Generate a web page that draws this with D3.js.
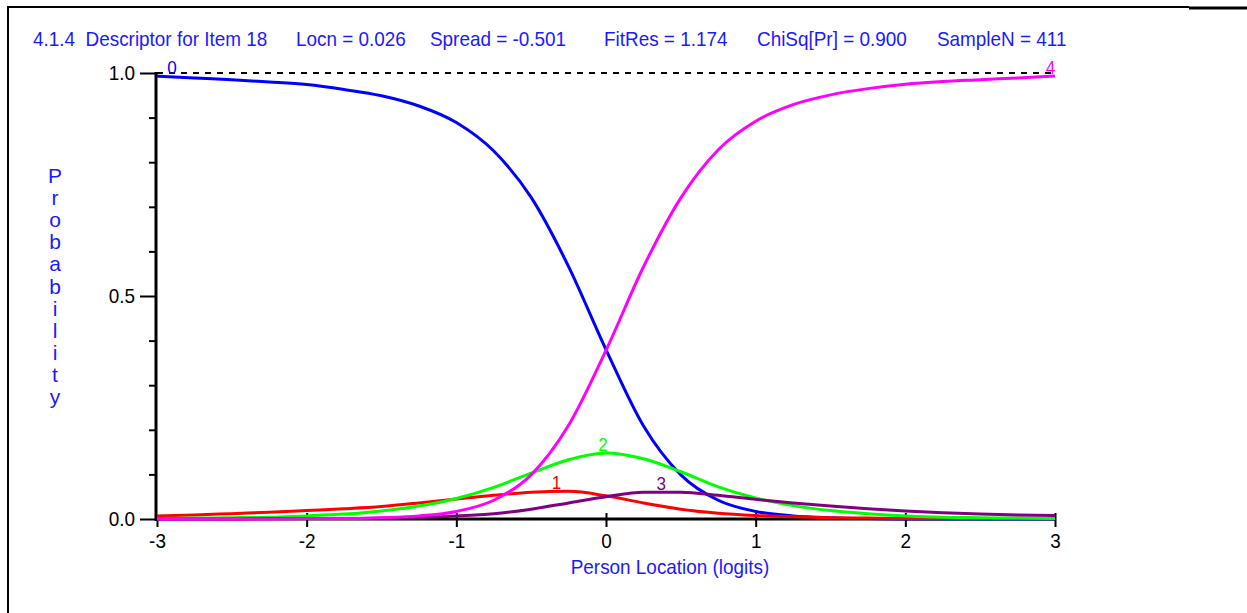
<!DOCTYPE html>
<html>
<head>
<meta charset="utf-8">
<script src="https://cdn.jsdelivr.net/npm/d3@7"></script>
<style>
  html, body { margin: 0; padding: 0; background: #fff; }
  svg { display: block; }
  text { font-family: "Liberation Sans", Arial, sans-serif; white-space: pre; }
</style>
</head>
<body>
<svg id="chart" width="1247" height="613"></svg>
<script>
// Category probability curves for item 18 (person location in logits)
const theta = [-3, -2.75, -2.5, -2.25, -2, -1.75, -1.5, -1.25, -1, -0.75, -0.5, -0.25,
               0, 0.25, 0.5, 0.75, 1, 1.25, 1.5, 1.75, 2, 2.25, 2.5, 2.75, 3];

const cat0 = [0.993, 0.989, 0.985, 0.980, 0.974, 0.963, 0.949, 0.926, 0.889, 0.825, 0.721, 0.566,
              0.380, 0.209, 0.099, 0.042, 0.017, 0.007, 0.003, 0.001, 0, 0, 0, 0, 0];
const cat1 = [0.007, 0.009, 0.012, 0.015, 0.019, 0.023, 0.028, 0.036, 0.045, 0.053, 0.060, 0.062,
              0.052, 0.036, 0.022, 0.013, 0.008, 0.005, 0.003, 0.002, 0.001, 0.001, 0.001, 0.001, 0.001];
const cat2 = [0.001, 0.002, 0.003, 0.004, 0.007, 0.011, 0.018, 0.029, 0.046, 0.071, 0.103, 0.133,
              0.148, 0.135, 0.106, 0.072, 0.047, 0.030, 0.019, 0.012, 0.007, 0.004, 0.003, 0.002, 0.001];
const cat3 = [0, 0, 0, 0.001, 0.001, 0.001, 0.002, 0.004, 0.007, 0.012, 0.022, 0.036,
              0.050, 0.060, 0.060, 0.053, 0.044, 0.036, 0.029, 0.023, 0.018, 0.014, 0.011, 0.009, 0.008];
const cat4 = [0, 0, 0, 0, 0.001, 0.001, 0.003, 0.007, 0.017, 0.042, 0.099, 0.210,
              0.378, 0.565, 0.720, 0.828, 0.892, 0.929, 0.951, 0.965, 0.975, 0.981, 0.985, 0.989, 0.993];

const categories = ["0", "1", "2", "3", "4"];
const catColors  = ["#0000ff", "#ff0000", "#00ff00", "#800080", "#ff00ff"];
// location (logits) where each category number is written above its curve
const labelTheta = [-2.9, -0.33, -0.02, 0.37, 2.97];

const xTicks = [-3, -2, -1, 0, 1, 2, 3];
const yMajor = [0, 0.5, 1.0];
const yMinor = [0.1, 0.2, 0.3, 0.4, 0.6, 0.7, 0.8, 0.9];

const titleParts  = ["4.1.4  Descriptor for Item 18", "Locn = 0.026", "Spread = -0.501",
                     "FitRes = 1.174", "ChiSq[Pr] = 0.900", "SampleN = 411"];
const titleStarts = [33, 296, 430, 604, 757, 937];
const yTitle = "Probability";
const xTitle = "Person Location (logits)";

const series = [cat0, cat1, cat2, cat3, cat4];

const svg = d3.select("#chart");
const FS = 21, SQUEEZE = 0.9;
const TEXT_BLUE = "#1a1aff";

function condense(sel, k) {
  sel.each(function () {
    const w = this.getComputedTextLength();
    d3.select(this).attr("textLength", w * k).attr("lengthAdjust", "spacingAndGlyphs");
  });
}

// outer frame
svg.append("line").attr("x1", 8).attr("x2", 8).attr("y1", 7).attr("y2", 613)
  .attr("stroke", "#000").attr("stroke-width", 2);
svg.append("line").attr("x1", 7).attr("x2", 1189).attr("y1", 7).attr("y2", 7)
  .attr("stroke", "#000").attr("stroke-width", 2);
svg.append("line").attr("x1", 1189).attr("x2", 1247).attr("y1", 8).attr("y2", 8)
  .attr("stroke", "#000").attr("stroke-width", 3);

const x = d3.scaleLinear().domain([-3, 3]).range([157, 1055]);
const y = d3.scaleLinear().domain([0, 1]).range([519, 73]);

// title
svg.append("g").selectAll("text").data(titleParts).join("text")
  .attr("x", (d, i) => titleStarts[i]).attr("y", 46)
  .attr("font-size", FS).attr("fill", TEXT_BLUE)
  .text(d => d)
  .call(condense, SQUEEZE);

// reference line at P = 1
svg.append("line").attr("x1", x(-3)).attr("x2", x(3)).attr("y1", y(1)).attr("y2", y(1))
  .attr("stroke", "#000").attr("stroke-width", 2).attr("stroke-dasharray", "6,6");

// y axis: minor then major ticks
const yMinorAxis = d3.axisLeft(y).tickValues(yMinor).tickSize(7).tickFormat("");
const yMajorAxis = d3.axisLeft(y).tickValues(yMajor).tickSize(16).tickPadding(5)
  .tickFormat(d3.format(".1f"));
const gyMinor = svg.append("g").attr("transform", `translate(${x(-3) - 1},0)`).call(yMinorAxis);
const gyMajor = svg.append("g").attr("transform", `translate(${x(-3) - 1},0)`).call(yMajorAxis);
[gyMinor, gyMajor].forEach(g => {
  g.select(".domain").remove();
  g.selectAll(".tick line").attr("stroke", "#000").attr("stroke-width", 2);
});
gyMajor.selectAll(".tick text").attr("font-size", FS).attr("font-family", null)
  .attr("fill", "#000").call(condense, SQUEEZE);

// x axis with ticks crossing the baseline
const xAxis = d3.axisBottom(x).tickValues(xTicks).tickSize(8).tickPadding(6)
  .tickFormat(d3.format("d"));
const gx = svg.append("g").attr("transform", `translate(0,${y(0)})`).call(xAxis);
gx.select(".domain").remove();
gx.selectAll(".tick line").attr("y1", d => d === -3 ? 0 : -6)
  .attr("stroke", "#000").attr("stroke-width", 2);
gx.selectAll(".tick text").attr("font-size", FS).attr("font-family", null)
  .attr("fill", "#000").text(d => String(d).replace("\u2212", "-")).call(condense, SQUEEZE);

// axis lines
svg.append("line").attr("x1", x(-3) - 1).attr("x2", x(-3) - 1).attr("y1", y(1) - 1).attr("y2", y(0) + 2)
  .attr("stroke", "#000").attr("stroke-width", 3);
svg.append("line").attr("x1", x(-3) - 2).attr("x2", x(3)).attr("y1", y(0)).attr("y2", y(0))
  .attr("stroke", "#000").attr("stroke-width", 3);

// axis titles
svg.append("g").selectAll("text").data(yTitle.split("")).join("text")
  .attr("x", 55).attr("y", (d, i) => 183 + i * 22.1)
  .attr("text-anchor", "middle").attr("font-size", FS).attr("fill", TEXT_BLUE)
  .text(d => d);
svg.append("text").attr("x", 670).attr("y", 574).attr("text-anchor", "middle")
  .attr("font-size", FS).attr("fill", TEXT_BLUE).text(xTitle).call(condense, SQUEEZE);

// curves
const line = d3.line()
  .x((d, i) => x(theta[i]))
  .y(d => y(d))
  .curve(d3.curveMonotoneX);

svg.append("g").selectAll("path").data(series).join("path")
  .attr("d", d => line(d))
  .attr("fill", "none")
  .attr("stroke", (d, i) => catColors[i])
  .attr("stroke-width", 3)
  .attr("stroke-linejoin", "round");

// category numbers above each curve
svg.append("g").selectAll("text").data(categories).join("text")
  .attr("x", (d, i) => x(labelTheta[i]))
  .attr("y", (d, i) => y(d3.max(series[i])) - 2)
  .attr("text-anchor", "middle").attr("font-size", FS - 2)
  .attr("fill", (d, i) => catColors[i])
  .text(d => d)
  .call(condense, SQUEEZE);
</script>
</body>
</html>
